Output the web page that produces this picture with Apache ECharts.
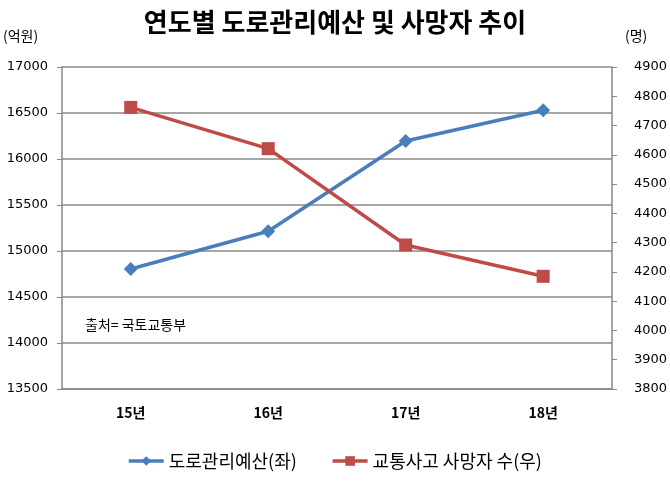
<!DOCTYPE html>
<html><head><meta charset="utf-8">
<script src="https://cdn.jsdelivr.net/npm/echarts@6/dist/echarts.min.js"></script>
<style>html,body{margin:0;padding:0;background:#fff}#c{width:670px;height:481px}</style>
</head><body><div id="c"></div>
<script>
const categories = ['15년', '16년', '17년', '18년'];
const budget = [14805, 15215, 16195, 16530];
const deaths = [4762, 4621, 4292, 4185];
const seriesNames = ['도로관리예산(좌)', '교통사고 사망자 수(우)'];
const leftTicks = { min: 13500, max: 17000, interval: 500 };
const rightTicks = { min: 3800, max: 4900, interval: 100 };

const F = '"Noto Sans CJK KR", "Noto Sans", sans-serif';
const NF = '"DejaVu Sans", sans-serif';
const chart = echarts.init(document.getElementById('c'), null, { renderer: 'canvas' });
chart.setOption({
  animation: false,
  backgroundColor: '#fff',
  textStyle: { fontFamily: F },
  title: {
    text: '연도별 도로관리예산 및 사망자 추이',
    left: 'center', top: 4,
    textStyle: { fontSize: 26, fontWeight: 'bold', color: '#000', fontFamily: F }
  },
  graphic: [
    { type: 'text', left: 3, top: 29, style: { text: '(억원)', fontSize: 14, fill: '#000', fontFamily: F } },
    { type: 'text', left: 625, top: 29, style: { text: '(명)', fontSize: 14, fill: '#000', fontFamily: F } },
    { type: 'text', left: 85, top: 318, style: { text: '출처= 국토교통부', fontSize: 14, fill: '#000', fontFamily: F } }
  ],
  legend: {
    left: 122, top: 447,
    itemWidth: 35, itemHeight: 12, itemGap: 34,
    lineStyle: { width: 3.5 },
    textStyle: { fontSize: 18, color: '#000', fontFamily: F },
    data: seriesNames
  },
  grid: { left: 62, right: 58, top: 67, bottom: 92, containLabel: false },
  xAxis: {
    type: 'category', data: categories, boundaryGap: true,
    axisLine: { lineStyle: { color: '#888', width: 1.5 } },
    axisTick: { show: false },
    axisLabel: { fontSize: 14, fontWeight: 'bold', color: '#000', margin: 17, fontFamily: F }
  },
  yAxis: [
    {
      type: 'value', position: 'left', min: leftTicks.min, max: leftTicks.max, interval: leftTicks.interval,
      axisLine: { show: true, lineStyle: { color: '#888', width: 1.5 } },
      axisTick: { show: true, length: 5, lineStyle: { color: '#888' } },
      axisLabel: { fontSize: 13, color: '#000', margin: 14, fontFamily: NF, formatter: v => String(v) },
      splitLine: { show: true, lineStyle: { color: '#888', width: 1.5 } }
    },
    {
      type: 'value', position: 'right', min: rightTicks.min, max: rightTicks.max, interval: rightTicks.interval,
      axisLine: { show: true, lineStyle: { color: '#888', width: 1.5 } },
      axisTick: { show: true, length: 5, lineStyle: { color: '#888' } },
      axisLabel: { fontSize: 13, color: '#000', margin: 22, fontFamily: NF, formatter: v => String(v) },
      splitLine: { show: false }
    }
  ],
  series: [
    {
      name: seriesNames[0], type: 'line', yAxisIndex: 0, data: budget,
      symbol: 'diamond', symbolSize: 14,
      itemStyle: { color: '#4a7ebb' },
      lineStyle: { color: '#4a7ebb', width: 3.5 }
    },
    {
      name: seriesNames[1], type: 'line', yAxisIndex: 1, data: deaths,
      symbol: 'rect', symbolSize: 13,
      itemStyle: { color: '#be4b48' },
      lineStyle: { color: '#be4b48', width: 3.5 }
    }
  ]
});
</script></body></html>
